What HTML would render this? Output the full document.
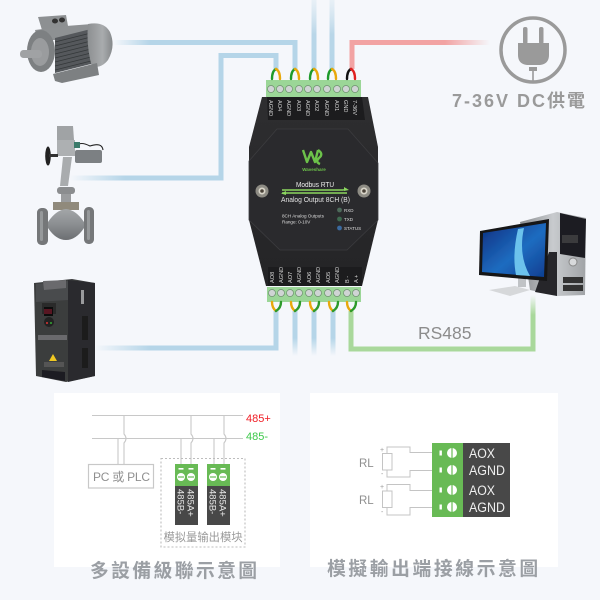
<!DOCTYPE html>
<html><head><meta charset="utf-8"><style>
html,body{margin:0;padding:0;background:#f5f7fb}
svg{display:block}
text{font-family:"Liberation Sans","Noto Sans CJK TC",sans-serif}
</style></head><body>
<svg width="600" height="600" viewBox="0 0 600 600" xmlns="http://www.w3.org/2000/svg">
<defs>
<linearGradient id="b1" gradientUnits="userSpaceOnUse" x1="113" y1="0" x2="150" y2="0"><stop offset="0" stop-color="#b5d5e8" stop-opacity="0"/><stop offset="1" stop-color="#b5d5e8"/></linearGradient>
<linearGradient id="b2" gradientUnits="userSpaceOnUse" x1="70" y1="0" x2="125" y2="0"><stop offset="0" stop-color="#b5d5e8" stop-opacity="0"/><stop offset="1" stop-color="#b5d5e8"/></linearGradient>
<linearGradient id="b3" gradientUnits="userSpaceOnUse" x1="95" y1="0" x2="150" y2="0"><stop offset="0" stop-color="#b5d5e8" stop-opacity="0"/><stop offset="1" stop-color="#b5d5e8"/></linearGradient>
<linearGradient id="v1" x1="0" y1="0" x2="0" y2="1"><stop offset="0" stop-color="#c9dfec" stop-opacity=".3"/><stop offset=".5" stop-color="#b9d6e8"/><stop offset="1" stop-color="#b5d5e8"/></linearGradient>
<linearGradient id="v2" x1="0" y1="0" x2="0" y2="1"><stop offset="0" stop-color="#b5d5e8"/><stop offset=".6" stop-color="#b5d5e8"/><stop offset="1" stop-color="#b5d5e8" stop-opacity="0"/></linearGradient>
<linearGradient id="r1" gradientUnits="userSpaceOnUse" x1="445" y1="0" x2="490" y2="0"><stop offset="0" stop-color="#f2a3a3"/><stop offset="1" stop-color="#f2a3a3" stop-opacity="0"/></linearGradient>
<linearGradient id="g1" gradientUnits="userSpaceOnUse" x1="0" y1="315" x2="0" y2="295"><stop offset="0" stop-color="#a9d89b"/><stop offset="1" stop-color="#a9d89b" stop-opacity="0"/></linearGradient>
<linearGradient id="body" x1="0" y1="0" x2="0" y2="1"><stop offset="0" stop-color="#2e2e30"/><stop offset="1" stop-color="#242426"/></linearGradient>
<linearGradient id="screen" x1="0" y1="0" x2="1" y2="1"><stop offset="0" stop-color="#0c2f80"/><stop offset=".55" stop-color="#1f6cc0"/><stop offset="1" stop-color="#0e3e90"/></linearGradient>
<linearGradient id="silver" x1="0" y1="0" x2="1" y2="0"><stop offset="0" stop-color="#8a8d90"/><stop offset=".5" stop-color="#c8cbce"/><stop offset="1" stop-color="#a0a3a6"/></linearGradient>
<linearGradient id="steel" x1="0" y1="0" x2="0" y2="1"><stop offset="0" stop-color="#a3a6a8"/><stop offset=".5" stop-color="#8b8e91"/><stop offset="1" stop-color="#6c6f72"/></linearGradient>
<linearGradient id="fan" x1="0" y1="0" x2="1" y2="0"><stop offset="0" stop-color="#8c8f91"/><stop offset=".6" stop-color="#a9acae"/><stop offset="1" stop-color="#85888a"/></linearGradient>
<filter id="s" x="-5%" y="-5%" width="110%" height="110%"><feGaussianBlur stdDeviation=".3"/></filter>
</defs>
<rect width="600" height="600" fill="#f5f7fb"/>

<!-- wires -->
<g fill="none" stroke-width="5" stroke-linejoin="miter">
<path d="M113 42.500H295V69" stroke="url(#b1)"/>
<path d="M70 178H221V55.500H276V69" stroke="url(#b2)"/>
<rect x="311.500" y="0" width="5" height="69" fill="url(#v1)" stroke="none"/>
<rect x="329.500" y="0" width="5" height="69" fill="url(#v1)" stroke="none"/>
<path d="M352 69V42.500H445" stroke="#f2a3a3"/>
<path d="M445 42.500H490" stroke="url(#r1)"/>
<path d="M95 348H276V311" stroke="url(#b3)"/>
<rect x="292.500" y="311" width="5" height="45" fill="url(#v2)" stroke="none"/>
<rect x="311.500" y="311" width="5" height="45" fill="url(#v2)" stroke="none"/>
<rect x="330.500" y="311" width="5" height="45" fill="url(#v2)" stroke="none"/>
<path d="M351 311V349H533V315" stroke="#a9d89b"/>
<path d="M533 315V295" stroke="url(#g1)"/>
</g>

<!-- motor -->
<g filter="url(#s)">
<path d="M38 17L66 15L68 26L42 30Z" fill="#8d9092"/>
<ellipse cx="55" cy="21" rx="3" ry="2.500" fill="#333"/><ellipse cx="62" cy="20" rx="3" ry="2.500" fill="#333"/>
<path d="M35 30L66 26L92 24V30L55 40L38 40Z" fill="#8e9193"/>
<path d="M55 38L95 28V63L55 73Z" fill="#55595c"/>
<g stroke="#34383b" stroke-width=".9"><path d="M55 42L95 32M55 46L95 36M55 50L95 40M55 54L95 44M55 58L95 48M55 62L95 52M55 66L95 56M55 70L95 60"/></g>
<path d="M88 24Q104 21 110 32Q116 46 108 60Q102 68 92 67Q86 46 88 24Z" fill="url(#fan)"/>
<path d="M53 74L97 63L99 75L62 83L55 81Z" fill="#7d8082"/>
<ellipse cx="41" cy="51" rx="14" ry="21" fill="#7d8082"/>
<ellipse cx="40" cy="52" rx="9" ry="14" fill="#9a9c9e"/>
<rect x="20" y="50" width="22" height="8" rx="3.500" fill="#a0a2a4"/>
</g>

<!-- valve -->
<g filter="url(#s)">
<path d="M57 126H73L74 140H57Z" fill="#a0a3a5"/>
<rect x="57" y="140" width="18" height="16" fill="#adb0b2"/>
<rect x="75" y="150" width="27" height="13" fill="#7c8083" rx="2"/>
<path d="M77 146Q80 141 90 146Q102 142 103 150" fill="none" stroke="#222" stroke-width="1.100"/>
<rect x="74" y="142" width="6" height="6" fill="#3a7a6a"/>
<ellipse cx="48" cy="156" rx="2.800" ry="9.500" fill="#222"/>
<rect x="49" y="154" width="9" height="3" fill="#333"/>
<path d="M63 157H72L68 186H60Z" fill="#a9acae"/>
<rect x="57" y="187" width="18" height="7" fill="#8b8d8f" rx="3"/>
<rect x="61" y="194" width="10" height="9" fill="#9a9c9e"/>
<rect x="53" y="202" width="26" height="8" fill="#908a7c"/>
<path d="M48 222Q56 210 66 209Q76 210 84 222V228Q76 240 66 240Q56 240 48 228Z" fill="url(#steel)"/>
<rect x="37" y="208" width="11" height="37" rx="4.500" fill="#747779"/>
<rect x="84" y="207" width="10" height="37" rx="4.500" fill="#747779"/>
<rect x="40" y="211" width="3" height="30" rx="1.500" fill="#96999b"/><rect x="87" y="210" width="3" height="30" rx="1.500" fill="#96999b"/>
</g>

<!-- VFD -->
<g filter="url(#s)">
<path d="M34 283L72 279L95 283V376L66 382L36 376Z" fill="#3b3c3e"/>
<path d="M68 280L95 283V376L68 382Z" fill="#2a2b2d"/>
<path d="M36 284L68 281V300L36 302Z" fill="#4a4b4d"/>
<path d="M43 281L66 280V288L44 290Z" fill="#6a6b6d"/>
<rect x="42" y="303" width="14" height="11" fill="#2a2a2c"/>
<rect x="44" y="307" width="9" height="9" fill="#111"/>
<rect x="44" y="309" width="8" height="5" fill="#8a2030" opacity=".6"/>
<circle cx="49" cy="322" r="5" fill="#222"/><circle cx="47" cy="323" r="1" fill="#d33"/><circle cx="51" cy="323" r="1" fill="#3a3"/>
<rect x="38" y="335" width="29" height="5" fill="#6a6b6d"/>
<path d="M53 354L57 361H49Z" fill="#f0c820"/>
<rect x="44" y="362" width="20" height="5" fill="#555"/>
<path d="M42 370L65 372V381L42 377Z" fill="#1e1e20"/>
<rect x="81" y="290" width="3" height="14" fill="#9a9b9d"/>
<rect x="82" y="316" width="6" height="24" fill="#1a1a1c"/><rect x="82" y="348" width="6" height="20" fill="#1a1a1c"/>
</g>

<!-- computer -->
<g filter="url(#s)">
<path d="M520 222L557 212L586 218L585 295L557 296L530 290Z" fill="url(#silver)"/>
<path d="M560 213L586 219L585 258L560 254Z" fill="#1e1e22"/>
<rect x="562" y="235" width="16" height="8" fill="#3a3a3e"/>
<path d="M549 252H557V296L535 292Z" fill="#26272a"/>
<circle cx="573" cy="262" r="4" fill="#d8dadc" stroke="#888"/>
<rect x="563" y="277" width="20" height="6" fill="#333"/><rect x="563" y="285" width="20" height="6" fill="#333"/>
<path d="M489 290L515 286L530 290L510 296Z" fill="#d6d8da"/>
<rect x="518" y="278" width="8" height="9" fill="#c0c3c6"/>
<path d="M480 231L549 219L547 281L479 275Z" fill="#131418"/>
<path d="M483 233L546 223L544 277L482 272Z" fill="url(#screen)"/>
<path d="M518 229Q512 255 516 275L530 276Q518 255 524 228Z" fill="#6cc2ec"/>
</g>

<!-- device -->
<g>
<path d="M262 97H368L378 147V220L362 286H266L249 220V147Z" fill="url(#body)"/>
<path d="M249 161L277 129H348L378 163V220L347 250H280L249 220Z" fill="#2a2a2d" stroke="#3c3c3f" stroke-width=".8"/>
<path d="M267 97H362L365 120H268Z" fill="#1c1c1e"/>
<path d="M268 267H362L362 286H268Z" fill="#1c1c1e"/>
<rect x="266" y="80" width="95" height="17" fill="#9bd697"/>
<rect x="267" y="287" width="94" height="15" fill="#9bd697"/>
<g fill="#cfd4d4" stroke="#6f8f70" stroke-width=".7">
<circle cx="271" cy="89" r="3.500"/><circle cx="280" cy="89" r="3.500"/><circle cx="289" cy="89" r="3.500"/><circle cx="299" cy="89" r="3.500"/><circle cx="308" cy="89" r="3.500"/><circle cx="317" cy="89" r="3.500"/><circle cx="327" cy="89" r="3.500"/><circle cx="337" cy="89" r="3.500"/><circle cx="346" cy="89" r="3.500"/><circle cx="355" cy="89" r="3.500"/>
<circle cx="272" cy="293" r="3.500"/><circle cx="281" cy="293" r="3.500"/><circle cx="290" cy="293" r="3.500"/><circle cx="299" cy="293" r="3.500"/><circle cx="309" cy="293" r="3.500"/><circle cx="318" cy="293" r="3.500"/><circle cx="328" cy="293" r="3.500"/><circle cx="337" cy="293" r="3.500"/><circle cx="347" cy="293" r="3.500"/><circle cx="356" cy="293" r="3.500"/>
</g>
<!-- twists -->
<g fill="none" stroke-width="2.400" stroke-linecap="round">
<g stroke="#1e9a2a"><path d="M276 69Q272 71 272 79"/><path d="M295 69Q291 71 291 79"/><path d="M314 69Q310 71 310 79"/><path d="M332 69Q328 71 328 79"/></g>
<g stroke="#e8a80c"><path d="M276 69Q280 71 280 79"/><path d="M295 69Q299 71 299 79"/><path d="M314 69Q318 71 318 79"/><path d="M332 69Q336 71 336 79"/></g>
<path d="M351 69Q347 71 347 79" stroke="#111"/><path d="M351 69Q355 71 355 79" stroke="#e02020"/>
<g stroke="#e8a80c"><path d="M272 302Q272 308 276 311"/><path d="M291 302Q291 308 295 311"/><path d="M310 302Q310 308 314 311"/><path d="M329 302Q329 308 333 311"/><path d="M347 302Q347 308 351 311"/></g>
<g stroke="#2d9a2a"><path d="M281 302Q281 308 276 311"/><path d="M300 302Q300 308 295 311"/><path d="M319 302Q319 308 314 311"/><path d="M338 302Q338 308 333 311"/><path d="M356 302Q356 308 351 311"/></g>
</g>
<!-- terminal labels -->
<g fill="#d8d8d8" font-size="5.600">
<text transform="translate(269,100) rotate(90)">AGND</text>
<text transform="translate(278,100) rotate(90)">AO4</text>
<text transform="translate(287,100) rotate(90)">AGND</text>
<text transform="translate(297,100) rotate(90)">AO3</text>
<text transform="translate(306,100) rotate(90)">AGND</text>
<text transform="translate(315,100) rotate(90)">AO2</text>
<text transform="translate(325,100) rotate(90)">AGND</text>
<text transform="translate(335,100) rotate(90)">AO1</text>
<text transform="translate(344,100) rotate(90)">GND</text>
<text transform="translate(353,100) rotate(90)">7-36V</text>
<text transform="translate(274,283) rotate(-90)">AO8</text>
<text transform="translate(283,283) rotate(-90)">AGND</text>
<text transform="translate(292,283) rotate(-90)">AO7</text>
<text transform="translate(301,283) rotate(-90)">AGND</text>
<text transform="translate(311,283) rotate(-90)">AO6</text>
<text transform="translate(320,283) rotate(-90)">AGND</text>
<text transform="translate(330,283) rotate(-90)">AO5</text>
<text transform="translate(339,283) rotate(-90)">AGND</text>
<text transform="translate(349,283) rotate(-90)">B -</text>
<text transform="translate(358,283) rotate(-90)">A +</text>
</g>
<!-- logo -->
<path d="M303 150L307 162L311 152L315 162L318 150M318 150Q324 154 319 158Q315 162 320 164" fill="none" stroke="#6cc24a" stroke-width="2.400" stroke-linejoin="round"/>
<text x="314" y="171" text-anchor="middle" font-size="4.500" font-weight="bold" fill="#6cc24a">Waveshare</text>
<text x="296" y="187" font-size="7" fill="#eee" textLength="38" lengthAdjust="spacingAndGlyphs">Modbus RTU</text>
<path d="M282 190H343L347 189M282 193H347" stroke="#8bd65f" stroke-width="1.400" fill="none"/>
<path d="M344 187L349 190L344 191Z M286 191L281 193.500L286 195Z" fill="#8bd65f"/>
<text x="281" y="202" font-size="7" fill="#e2e2e2" textLength="69" lengthAdjust="spacingAndGlyphs">Analog Output 8CH (B)</text>
<text x="282" y="217.500" font-size="4.600" fill="#ddd">8CH Analog Outputs</text>
<text x="282" y="223.500" font-size="4.600" fill="#ddd">Range:  0-10V</text>
<circle cx="339.500" cy="210" r="2.400" fill="#4d6a5a"/><circle cx="339.500" cy="219" r="2.400" fill="#3f6a50"/><circle cx="339.500" cy="228" r="2.400" fill="#3b6aa0"/>
<g font-size="4.500" fill="#ddd"><text x="344" y="212">RXD</text><text x="344" y="221">TXD</text><text x="344" y="230">STATUS</text></g>
<g><circle cx="262" cy="191" r="6.500" fill="#8e8c84"/><circle cx="262" cy="191" r="3.500" fill="#d8d4c8"/><circle cx="262" cy="191" r="1.800" fill="#4a4238"/>
<circle cx="364" cy="191" r="6.500" fill="#8e8c84"/><circle cx="364" cy="191" r="3.500" fill="#d8d4c8"/><circle cx="364" cy="191" r="1.800" fill="#4a4238"/></g>
</g>

<!-- plug -->
<g fill="#9a9a9a">
<circle cx="533" cy="50" r="32" fill="none" stroke="#9a9a9a" stroke-width="3.500"/>
<rect x="523" y="27" width="4.500" height="17" rx="2"/><rect x="539" y="27" width="4.500" height="17" rx="2"/>
<path d="M518 43H549V55Q549 64 540 65H527Q518 64 518 55Z"/>
<rect x="529" y="67" width="8" height="4"/>
<rect x="532.200" y="70" width="1.600" height="13"/>
</g>
<text x="452" y="107" font-size="18" font-weight="bold" fill="#9a9a9a" letter-spacing="2">7-36V DC供電</text>
<text x="418" y="339" font-size="17.500" fill="#8c8c8c">RS485</text>

<!-- panels -->
<rect x="54" y="393" width="226" height="174" fill="#fff"/>
<rect x="310" y="393" width="248" height="174" fill="#fff"/>

<!-- left diagram -->
<g fill="none" stroke="#c8c8c8" stroke-width="1.100">
<path d="M92 415.500H243M92 438.500H243"/>
<path d="M124 415.500V434Q128 438.500 124 443V464"/>
<path d="M118 438.500V464"/>
<path d="M181 438.500V465"/>
<path d="M191 415.500V434Q195 438.500 191 443V465"/>
<path d="M214 438.500V465"/>
<path d="M224 415.500V434Q228 438.500 224 443V465"/>
<rect x="88.500" y="464.500" width="65" height="23.500" stroke-width="1.200"/>
<rect x="161" y="458.500" width="84" height="88.500" stroke-dasharray="2 2" stroke="#bdbdbd"/>
</g>
<text x="246" y="422" font-size="11" fill="#f01c24">485+</text>
<text x="246" y="440" font-size="11" fill="#3cc84a">485-</text>
<text x="93" y="481" font-size="12" fill="#8f8f8f" textLength="57">PC 或 PLC</text>
<g>
<rect x="175" y="464" width="23" height="22" fill="#68ba55"/><rect x="175" y="486" width="23" height="39" fill="#484848"/>
<rect x="207" y="464" width="23" height="22" fill="#68ba55"/><rect x="207" y="486" width="23" height="39" fill="#484848"/>
<g fill="#fff"><circle cx="181" cy="477" r="4"/><circle cx="191" cy="477" r="4"/><circle cx="213" cy="477" r="4"/><circle cx="223" cy="477" r="4"/>
<rect x="178.500" y="468" width="5" height="1.600"/><rect x="188.500" y="468" width="5" height="1.600"/><rect x="210.500" y="468" width="5" height="1.600"/><rect x="220.500" y="468" width="5" height="1.600"/></g>
<g><rect x="178" y="476.400" width="6" height="1.200" fill="#68ba55"/><rect x="188" y="476.400" width="6" height="1.200" fill="#68ba55"/><rect x="210" y="476.400" width="6" height="1.200" fill="#68ba55"/><rect x="220" y="476.400" width="6" height="1.200" fill="#68ba55"/></g>
<g fill="#e8e8e8" font-size="9.500">
<text transform="translate(177.500,489) rotate(90)">485B-</text>
<text transform="translate(187.500,489) rotate(90)">485A+</text>
<text transform="translate(209.500,489) rotate(90)">485B-</text>
<text transform="translate(219.500,489) rotate(90)">485A+</text>
</g>
</g>
<text x="203" y="541" text-anchor="middle" font-size="11.300" fill="#999">模拟量输出模块</text>
<text x="90" y="577" font-size="18.800" font-weight="bold" fill="#9b9fa4" letter-spacing="2.400">多設備級聯示意圖</text>

<!-- right diagram -->
<rect x="432" y="443" width="31" height="74" fill="#68ba55"/>
<rect x="463" y="443" width="47" height="74" fill="#484848"/>
<g fill="#fff">
<circle cx="452" cy="453" r="5"/><circle cx="452" cy="470" r="5"/><circle cx="452" cy="490" r="5"/><circle cx="452" cy="507" r="5"/>
<rect x="439.500" y="450.500" width="2.400" height="5"/><rect x="439.500" y="467.500" width="2.400" height="5"/><rect x="439.500" y="487.500" width="2.400" height="5"/><rect x="439.500" y="504.500" width="2.400" height="5"/>
</g>
<g stroke="#68ba55" stroke-width="1.200"><path d="M452 448V458M452 465V475M452 485V495M452 502V512"/></g>
<g fill="#f0f0f0" font-size="13.500">
<text x="469" y="458" textLength="26" lengthAdjust="spacingAndGlyphs">AOX</text>
<text x="469" y="475" textLength="36" lengthAdjust="spacingAndGlyphs">AGND</text>
<text x="469" y="495" textLength="26" lengthAdjust="spacingAndGlyphs">AOX</text>
<text x="469" y="512" textLength="36" lengthAdjust="spacingAndGlyphs">AGND</text>
</g>
<g fill="none" stroke="#c4c4c4" stroke-width="1">
<rect x="382.500" y="453.500" width="9.500" height="16.500"/>
<rect x="382.500" y="491" width="9.500" height="16.500"/>
<path d="M387 453.500V447H410V452.500H432"/>
<path d="M387 470V477H410V470.500H432"/>
<path d="M387 491V484.500H410V490.500H432"/>
<path d="M387 507.500V515H410V507.500H432"/>
</g>
<g fill="#9a9a9a" font-size="7"><text x="380" y="452">+</text><text x="381" y="476">-</text><text x="380" y="489">+</text><text x="381" y="514">-</text></g>
<text x="359" y="467" font-size="11.500" fill="#8f8f8f">RL</text>
<text x="359" y="504" font-size="11.500" fill="#8f8f8f">RL</text>
<text x="327" y="575" font-size="18.800" font-weight="bold" fill="#9b9fa4" letter-spacing="2.600">模擬輸出端接線示意圖</text>
</svg>
</body></html>
